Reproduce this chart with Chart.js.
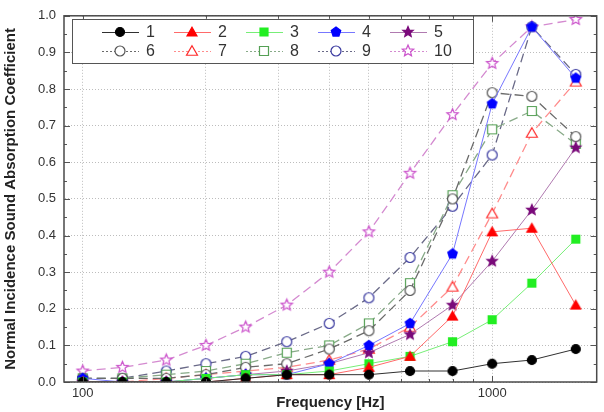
<!DOCTYPE html>
<html>
<head>
<meta charset="utf-8">
<script src="https://cdn.jsdelivr.net/npm/chart.js@4.4.1/dist/chart.umd.min.js"></script>
<style>
  html, body { margin: 0; padding: 0; background: #fff; }
  #wrap { width: 604px; height: 412px; }
</style>
</head>
<body>
<div id="wrap"><canvas id="absChart" width="604" height="412"></canvas></div>
<script>
// frequencies (Hz), 1/3 octave bands
const freqs = [100, 125, 160, 200, 250, 315, 400, 500, 630, 800, 1000, 1250, 1600];
const seriesNames = ['1', '2', '3', '4', '5', '6', '7', '8', '9', '10'];
const xTickValues = [100, 200, 300, 400, 500, 600, 700, 800, 900, 1000];
const xTickLabels = ['100', '1000'];

// absorption coefficients
const s1 = [0.00, 0.00, 0.00, 0.00, 0.01, 0.02, 0.02, 0.02, 0.03, 0.03, 0.05, 0.06, 0.09];
const s2 = [0.00, 0.00, 0.00, 0.00, 0.01, 0.02, 0.02, 0.04, 0.07, 0.18, 0.41, 0.42, 0.21];
const s3 = [0.00, 0.00, 0.00, 0.01, 0.02, 0.02, 0.03, 0.05, 0.07, 0.11, 0.17, 0.27, 0.39];
const s4 = [0.01, 0.00, 0.00, 0.01, 0.02, 0.02, 0.05, 0.10, 0.16, 0.35, 0.76, 0.97, 0.83];
const s5 = [0.00, 0.00, 0.00, 0.01, 0.02, 0.03, 0.05, 0.08, 0.13, 0.21, 0.33, 0.47, 0.64];
const s6 = [0.01, 0.01, 0.01, 0.02, 0.04, 0.05, 0.09, 0.14, 0.25, 0.50, 0.79, 0.78, 0.67];
const s7 = [0.00, 0.00, 0.01, 0.02, 0.03, 0.04, 0.06, 0.09, 0.15, 0.26, 0.46, 0.68, 0.82];
const s8 = [0.01, 0.01, 0.02, 0.03, 0.05, 0.08, 0.10, 0.16, 0.27, 0.51, 0.69, 0.74, 0.65];
const s9 = [0.01, 0.01, 0.03, 0.05, 0.07, 0.11, 0.16, 0.23, 0.34, 0.48, 0.62, 0.97, 0.84];
const s10 = [0.03, 0.04, 0.06, 0.10, 0.15, 0.21, 0.30, 0.41, 0.57, 0.73, 0.87, 0.97, 0.99];
const allSeries = [s1, s2, s3, s4, s5, s6, s7, s8, s9, s10];

// look of each series
const styles = [
  { shape: 'circle',   color: '#000000', line: '#303030', open: false, dashed: false, r: 4.5 },
  { shape: 'triangle', color: '#ff0000', line: '#ff6a6a', open: false, dashed: false, r: 5 },
  { shape: 'rect',     color: '#22ee22', line: '#77ee77', open: false, dashed: false, r: 4 },
  { shape: 'pentagon', color: '#0000ff', line: '#7777ff', open: false, dashed: false, r: 5 },
  { shape: 'star',     color: '#7a0a7a', line: '#b07ab0', open: false, dashed: false, r: 5.5 },
  { shape: 'circle',   color: '#555555', line: '#6a6a6a', open: true,  dashed: true,  r: 5 },
  { shape: 'triangle', color: '#ff2a2a', line: '#ff8c8c', open: true,  dashed: true,  r: 5.5 },
  { shape: 'rect',     color: '#55a055', line: '#88aa88', open: true,  dashed: true,  r: 4.5 },
  { shape: 'circle',   color: '#3a3aa0', line: '#6a6a88', open: true,  dashed: true,  r: 5 },
  { shape: 'star',     color: '#cc55cc', line: '#d48ad0', open: true,  dashed: true,  r: 6 }
];

function markerPath(c, shape, x, y, r) {
  c.beginPath();
  if (shape === 'circle') {
    c.arc(x, y, r, 0, Math.PI * 2);
  } else if (shape === 'rect') {
    c.rect(x - r, y - r, 2 * r, 2 * r);
  } else {
    let n = shape === 'triangle' ? 3 : 5;
    let pts = shape === 'star' ? 10 : n;
    for (let i = 0; i < pts; i++) {
      let a = -Math.PI / 2 + i * 2 * Math.PI / pts;
      let rr = r;
      if (shape === 'star' && i % 2 === 1) rr = r * 0.45;
      if (shape === 'triangle') rr = r * 1.15;
      let px = x + rr * Math.cos(a), py = y + rr * Math.sin(a) + (shape === 'triangle' ? r * 0.2 : 0);
      if (i === 0) c.moveTo(px, py); else c.lineTo(px, py);
    }
    c.closePath();
  }
}

function drawMarker(c, st, x, y) {
  markerPath(c, st.shape, x, y, st.r);
  c.fillStyle = st.open ? '#ffffff' : st.color;
  c.fill();
  c.lineWidth = 1.2;
  c.strokeStyle = st.color;
  c.stroke();
}

function makeMarker(st) {
  const size = Math.ceil(st.r * 2 + 5);
  const cv = document.createElement('canvas');
  cv.width = size; cv.height = size;
  drawMarker(cv.getContext('2d'), st, size / 2, size / 2);
  return cv;
}

const datasets = allSeries.map((vals, i) => ({
  label: seriesNames[i],
  data: freqs.map((f, j) => ({ x: f, y: vals[j] })),
  borderColor: styles[i].line,
  borderWidth: styles[i].dashed ? 1.3 : 1,
  borderDash: styles[i].dashed ? [9, 5] : [],
  pointStyle: makeMarker(styles[i]),
  pointRadius: styles[i].r,
  tension: 0,
  fill: false
}));

// frame with inward ticks + legend box drawn on top
const framePlugin = {
  id: 'frame',
  afterDatasetsDraw(chart) {
    const c = chart.ctx, a = chart.chartArea;
    const xs = chart.scales.x, ys = chart.scales.y;
    c.save();
    c.strokeStyle = '#555';
    c.lineWidth = 1;
    c.beginPath();
    xTickValues.forEach(v => {
      const px = Math.round(xs.getPixelForValue(v)) + 0.5;
      const len = (v === 100 || v === 1000) ? 6 : 3;
      c.moveTo(px, a.bottom); c.lineTo(px, a.bottom - len);
      c.moveTo(px, a.top); c.lineTo(px, a.top + len);
    });
    for (let k = 0; k <= 20; k++) {
      const py = Math.round(ys.getPixelForValue(k * 0.05)) + 0.5;
      const len = k % 2 === 0 ? 6 : 3;
      c.moveTo(a.left, py); c.lineTo(a.left + len, py);
      c.moveTo(a.right, py); c.lineTo(a.right - len, py);
    }
    c.stroke();
    c.lineWidth = 1.5;
    c.strokeStyle = '#4a4a4a';
    c.strokeRect(a.left, a.top, a.right - a.left, a.bottom - a.top);

    // legend
    c.fillStyle = '#fff';
    c.fillRect(72, 19, 401, 44);
    c.lineWidth = 1;
    c.strokeStyle = '#555';
    c.strokeRect(72.5, 19.5, 401, 44);
    c.font = '16px Arial, "Liberation Sans", sans-serif';
    c.textBaseline = 'middle';
    styles.forEach((st, i) => {
      const col = i % 5, row = Math.floor(i / 5);
      const x0 = 102 + col * 72, y0 = row === 0 ? 32 : 51;
      c.beginPath();
      c.strokeStyle = st.line;
      c.lineWidth = 1;
      c.setLineDash(st.dashed ? [2, 2] : []);
      c.moveTo(x0, y0 + 0.5); c.lineTo(x0 + 37, y0 + 0.5);
      c.stroke();
      c.setLineDash([]);
      drawMarker(c, st, x0 + 18, y0);
      c.fillStyle = '#333';
      c.fillText(seriesNames[i], x0 + 44, y0 + 1);
    });
    c.restore();
  }
};

const ctx = document.getElementById('absChart').getContext('2d');
const config = {
  type: 'line',
  data: { datasets: datasets },
  options: {
    responsive: false,
    animation: false,
    layout: { padding: { top: 14, right: 4, left: 0, bottom: 0 } },
    plugins: { legend: { display: false }, tooltip: { enabled: false } },
    scales: {
      x: {
        type: 'logarithmic',
        min: 90,
        max: 1800,
        afterBuildTicks: s => { s.ticks = xTickValues.map(v => ({ value: v })); },
        afterFit: s => { s.height = 30; },
        grid: { color: '#bdbdbd', lineWidth: 1, drawTicks: false },
        border: { display: true, color: 'rgba(0,0,0,0)', dash: [1, 2] },
        ticks: {
          autoSkip: false,
          maxRotation: 0,
          padding: 4,
          color: '#333',
          font: { family: 'Arial, "Liberation Sans", sans-serif', size: 13 },
          callback: v => xTickLabels.includes(String(v)) ? String(v) : ''
        },
        title: {
          display: true,
          text: 'Frequency [Hz]',
          color: '#222',
          font: { family: 'Arial, "Liberation Sans", sans-serif', size: 15, weight: 'bold' },
          padding: { top: 0, bottom: 0 }
        }
      },
      y: {
        min: 0,
        max: 1,
        afterFit: s => { s.width = 64; },
        grid: { color: '#bdbdbd', lineWidth: 1, drawTicks: false },
        border: { display: true, color: 'rgba(0,0,0,0)', dash: [1, 2] },
        ticks: {
          stepSize: 0.1,
          padding: 8,
          color: '#333',
          font: { family: 'Arial, "Liberation Sans", sans-serif', size: 13 },
          callback: v => v.toFixed(1)
        },
        title: {
          display: true,
          text: 'Normal Incidence Sound Absorption Coefficient',
          color: '#222',
          font: { family: 'Arial, "Liberation Sans", sans-serif', size: 15, weight: 'bold' },
          padding: { top: 2, bottom: 0 }
        }
      }
    }
  },
  plugins: [framePlugin]
};

const absChart = new Chart(ctx, config);
</script>
</body>
</html>
